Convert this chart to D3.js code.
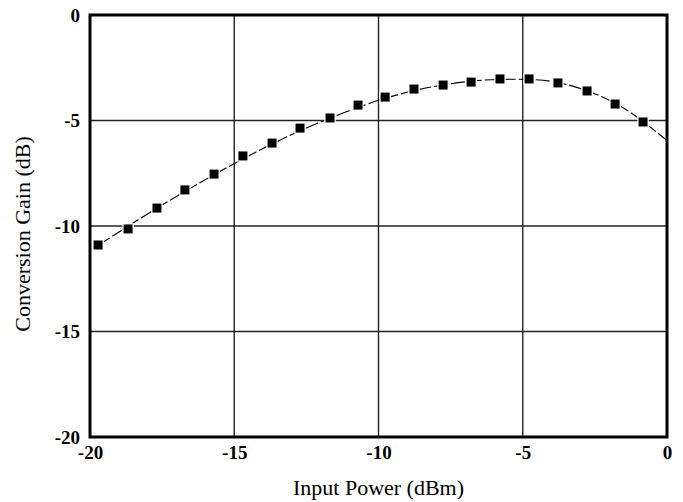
<!DOCTYPE html>
<html>
<head>
<meta charset="utf-8">
<script src="https://cdn.jsdelivr.net/npm/d3@7"></script>
<style>
  body { margin: 0; background: #fff; }
  .tick text { font-family: "Liberation Serif", "Times New Roman", serif; font-weight: bold; font-size: 19px; }
  .title { font-family: "Liberation Serif", "Times New Roman", serif; font-size: 22px; }
</style>
</head>
<body>
<div id="chart"></div>
<script>
// measured points
let inputPower = [-19.72, -18.68, -17.68, -16.71, -15.70, -14.70, -13.69, -12.72, -11.68, -10.71,
    -9.77, -8.77, -7.76, -6.79, -5.79, -4.78, -3.78, -2.77, -1.80, -0.83];
let gain = [-10.90, -10.14, -9.15, -8.29, -7.54, -6.68, -6.07, -5.36, -4.88, -4.27,
    -3.89, -3.51, -3.32, -3.18, -3.03, -3.03, -3.22, -3.60, -4.22, -5.07];

// dashed fit curve, it runs a bit past the last point
let fitX = [-19.72, -17.70, -15.70, -13.70, -11.70, -9.70, -7.70, -5.70, -3.70, -1.70, 0];
let fitY = [-10.92, -9.17, -7.57, -6.12, -4.90, -3.92, -3.30, -3.05, -3.22, -4.25, -5.95];

let xTicks = [-20, -15, -10, -5, 0];
let yTicks = [0, -5, -10, -15, -20];

let margin = {
        top: 15,
        right: 16,
        bottom: 65,
        left: 90
    },
    width = 683 - margin.left - margin.right,
    height = 502 - margin.top - margin.bottom;

let svg = d3.select('#chart').append('svg')
    .attr('width', 683)
    .attr('height', 502),
    g = svg.append('g')
    .attr('transform', 'translate(' + margin.left + ',' + margin.top + ')');

let x = d3.scaleLinear().domain([-20, 0]).range([0, width]);
let y = d3.scaleLinear().domain([-20, 0]).range([height, 0]);

// plain hyphen for negatives, like the original
let fmt = d => String(d);

// grid
g.append('g')
    .selectAll('line')
    .data(xTicks.slice(1, -1))
    .enter().append('line')
    .attr('x1', d => x(d)).attr('x2', d => x(d))
    .attr('y1', 0).attr('y2', height)
    .attr('stroke', '#222').attr('stroke-width', 1.4);
g.append('g')
    .selectAll('line')
    .data(yTicks.slice(1, -1))
    .enter().append('line')
    .attr('y1', d => y(d)).attr('y2', d => y(d))
    .attr('x1', 0).attr('x2', width)
    .attr('stroke', '#222').attr('stroke-width', 1.4);

// axes (labels only, frame drawn separately)
let xAxis = g.append('g')
    .attr('transform', 'translate(0,' + height + ')')
    .call(d3.axisBottom(x).tickValues(xTicks).tickSize(0).tickPadding(9).tickFormat(fmt));
let yAxis = g.append('g')
    .call(d3.axisLeft(y).tickValues(yTicks).tickSize(0).tickPadding(10).tickFormat(fmt));
xAxis.select('.domain').remove();
yAxis.select('.domain').remove();
g.selectAll('.tick text').attr('fill', '#000');

// fit line
let line = d3.line()
    .x(d => x(d[0]))
    .y(d => y(d[1]))
    .curve(d3.curveCatmullRom);

g.append('path')
    .datum(fitX.map((v, i) => [v, fitY[i]]))
    .attr('d', line)
    .attr('fill', 'none')
    .attr('stroke', '#000')
    .attr('stroke-width', 1.1)
    .attr('stroke-dasharray', '14,3');

// markers with white halo
g.selectAll('rect.pt')
    .data(inputPower.map((v, i) => [v, gain[i]]))
    .enter().append('rect')
    .attr('class', 'pt')
    .attr('x', d => x(d[0]) - 4.5)
    .attr('y', d => y(d[1]) - 4.5)
    .attr('width', 9).attr('height', 9)
    .attr('fill', '#000')
    .attr('stroke', '#fff')
    .attr('stroke-width', 2.5)
    .attr('paint-order', 'stroke');

// frame
g.append('rect')
    .attr('x', 0).attr('y', 0)
    .attr('width', width).attr('height', height)
    .attr('fill', 'none')
    .attr('stroke', '#000')
    .attr('stroke-width', 3);

// titles
svg.append('text')
    .attr('class', 'title')
    .attr('x', margin.left + width / 2)
    .attr('y', 495)
    .attr('text-anchor', 'middle')
    .text('Input Power (dBm)');

svg.append('text')
    .attr('class', 'title')
    .attr('transform', 'translate(30,' + (margin.top + height / 2 + 8) + ') rotate(-90)')
    .attr('text-anchor', 'middle')
    .text('Conversion Gain (dB)');
</script>
</body>
</html>
